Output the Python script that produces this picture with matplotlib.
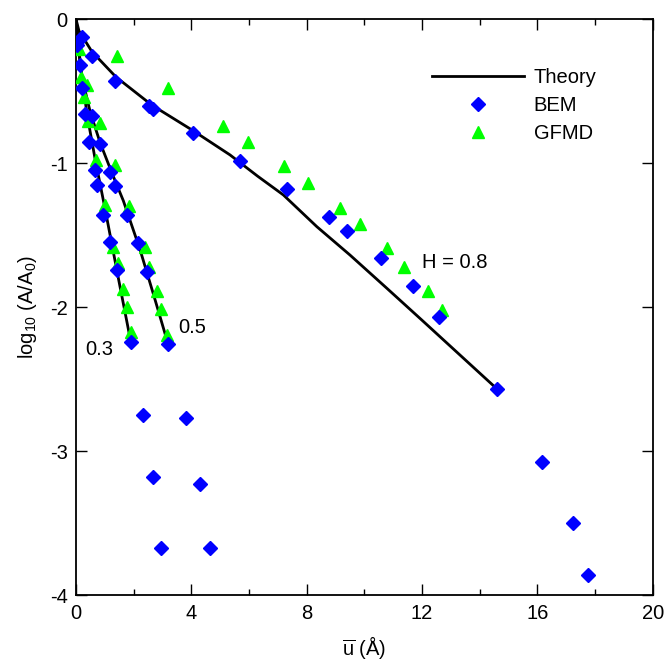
import numpy as np
import matplotlib
matplotlib.use("Agg")
import matplotlib.pyplot as plt
from matplotlib.ticker import MultipleLocator

plt.rcParams['font.family'] = ['Liberation Sans', 'DejaVu Sans']
plt.rcParams['mathtext.fontset'] = 'custom'
plt.rcParams['mathtext.rm'] = 'Liberation Sans'
plt.rcParams['mathtext.it'] = 'Liberation Sans:italic'
plt.rcParams['axes.unicode_minus'] = False

# theory curves
th03_x = [0.0, 0.03, 0.15, 0.38, 0.67, 1.02, 1.47, 1.9]
th03_y = [0.0, -0.05, -0.31, -0.66, -0.98, -1.33, -1.80, -2.24]
th05_x = [0.0, 0.05, 0.2, 0.5, 0.84, 1.25, 1.64, 2.22, 2.7, 3.2]
th05_y = [0.0, -0.15, -0.40, -0.65, -0.86, -1.07, -1.26, -1.60, -1.92, -2.26]
th08_x = [0.0, 0.1, 0.55, 1.38, 2.62, 4.07, 5.34, 6.3, 7.19, 8.35, 9.5, 10.78, 12.0, 14.6]
th08_y = [0.0, -0.08, -0.225, -0.40, -0.595, -0.775, -0.942, -1.09, -1.22, -1.44, -1.637,
          -1.868, -2.09, -2.567]

# BEM
bem03_x = [0.21, 0.32, 0.44, 0.65, 0.73, 0.95, 1.18, 1.41, 1.9, 2.31, 2.68, 2.95]
bem03_y = [-0.48, -0.66, -0.854, -1.05, -1.15, -1.36, -1.545, -1.74, -2.24, -2.748, -3.176, -3.67]
bem05_x = [0.03, 0.15, 0.55, 0.84, 1.19, 1.36, 1.77, 2.16, 2.47, 3.2, 3.82, 4.31, 4.66]
bem05_y = [-0.18, -0.32, -0.67, -0.866, -1.06, -1.16, -1.36, -1.556, -1.757, -2.257, -2.771, -3.227, -3.674]
bem08_x = [0.21, 0.55, 1.36, 2.54, 2.66, 4.07, 5.69, 7.31, 8.76, 9.41, 10.58, 11.68, 12.6,
           14.6, 16.17, 17.23, 17.77]
bem08_y = [-0.12, -0.257, -0.43, -0.60, -0.62, -0.79, -0.986, -1.176, -1.37, -1.468, -1.655,
           -1.85, -2.065, -2.567, -3.076, -3.496, -3.86]

# GFMD
gf03_x = [0.18, 0.27, 0.42, 0.69, 1.02, 1.29, 1.47, 1.62, 1.76, 1.9]
gf03_y = [-0.40, -0.54, -0.71, -0.98, -1.29, -1.58, -1.69, -1.87, -2.0, -2.17]
gf05_x = [0.38, 0.84, 1.34, 1.83, 2.39, 2.54, 2.8, 2.95, 3.17]
gf05_y = [-0.454, -0.72, -1.01, -1.30, -1.58, -1.72, -1.885, -2.01, -2.19]
gf08_x = [0.09, 1.42, 3.2, 5.11, 5.98, 7.21, 8.06, 9.16, 9.85, 10.78, 11.38, 12.2, 12.7]
gf08_y = [-0.206, -0.253, -0.475, -0.74, -0.855, -1.02, -1.14, -1.31, -1.424, -1.59, -1.718,
          -1.885, -2.02]

fig = plt.figure(figsize=(6.67, 6.63), dpi=100)
ax = fig.add_axes([0.114, 0.102, 0.8646, 0.869])

lw = 2.0
ax.plot(th03_x, th03_y, color='black', lw=lw, zorder=2)
ax.plot(th05_x, th05_y, color='black', lw=lw, zorder=2)
ax.plot(th08_x, th08_y, color='black', lw=lw, zorder=2, label='Theory')

bem_x = bem03_x + bem05_x + bem08_x
bem_y = bem03_y + bem05_y + bem08_y
gf_x = gf03_x + gf05_x + gf08_x
gf_y = gf03_y + gf05_y + gf08_y

ax.plot(gf_x, gf_y, ls='none', marker='^', ms=9, color='#00ff00', mec='#00ff00',
        zorder=3, label='GFMD')
ax.plot(bem_x, bem_y, ls='none', marker='D', ms=7, color='#0000ff', mec='#0000ff',
        zorder=3, label='BEM')

fs = 14.5
ax.text(12.0, -1.69, 'H = 0.8', fontsize=fs, va='center', ha='left')
ax.text(3.54, -2.137, '0.5', fontsize=fs, va='center', ha='left')
ax.text(0.31, -2.29, '0.3', fontsize=fs, va='center', ha='left')

ax.set_xlim(0, 20)
ax.set_ylim(-4, 0)
ax.xaxis.set_major_locator(MultipleLocator(4))
ax.xaxis.set_minor_locator(MultipleLocator(2))
ax.yaxis.set_major_locator(MultipleLocator(1))
ax.tick_params(which='both', direction='in', top=True, right=True, labelsize=fs, width=1.0)
ax.tick_params(which='major', length=8, pad=6)
ax.tick_params(which='minor', length=4)
for s in ax.spines.values():
    s.set_linewidth(1.3)

ax.set_xlabel(r'$\overline{\mathrm{u}}$ (Å)', fontsize=fs, labelpad=8)
ax.set_ylabel(r'log$_{10}$ (A/A$_0$)', fontsize=fs, labelpad=8)

handles, labels = ax.get_legend_handles_labels()
order = [labels.index('Theory'), labels.index('BEM'), labels.index('GFMD')]
ax.legend([handles[i] for i in order], [labels[i] for i in order],
          loc='upper left', bbox_to_anchor=(0.617, 0.916), frameon=False, fontsize=fs,
          handlelength=4.6, handletextpad=0.46, borderpad=0, borderaxespad=0,
          labelspacing=0.45)

fig.savefig('out.png', dpi=100)
